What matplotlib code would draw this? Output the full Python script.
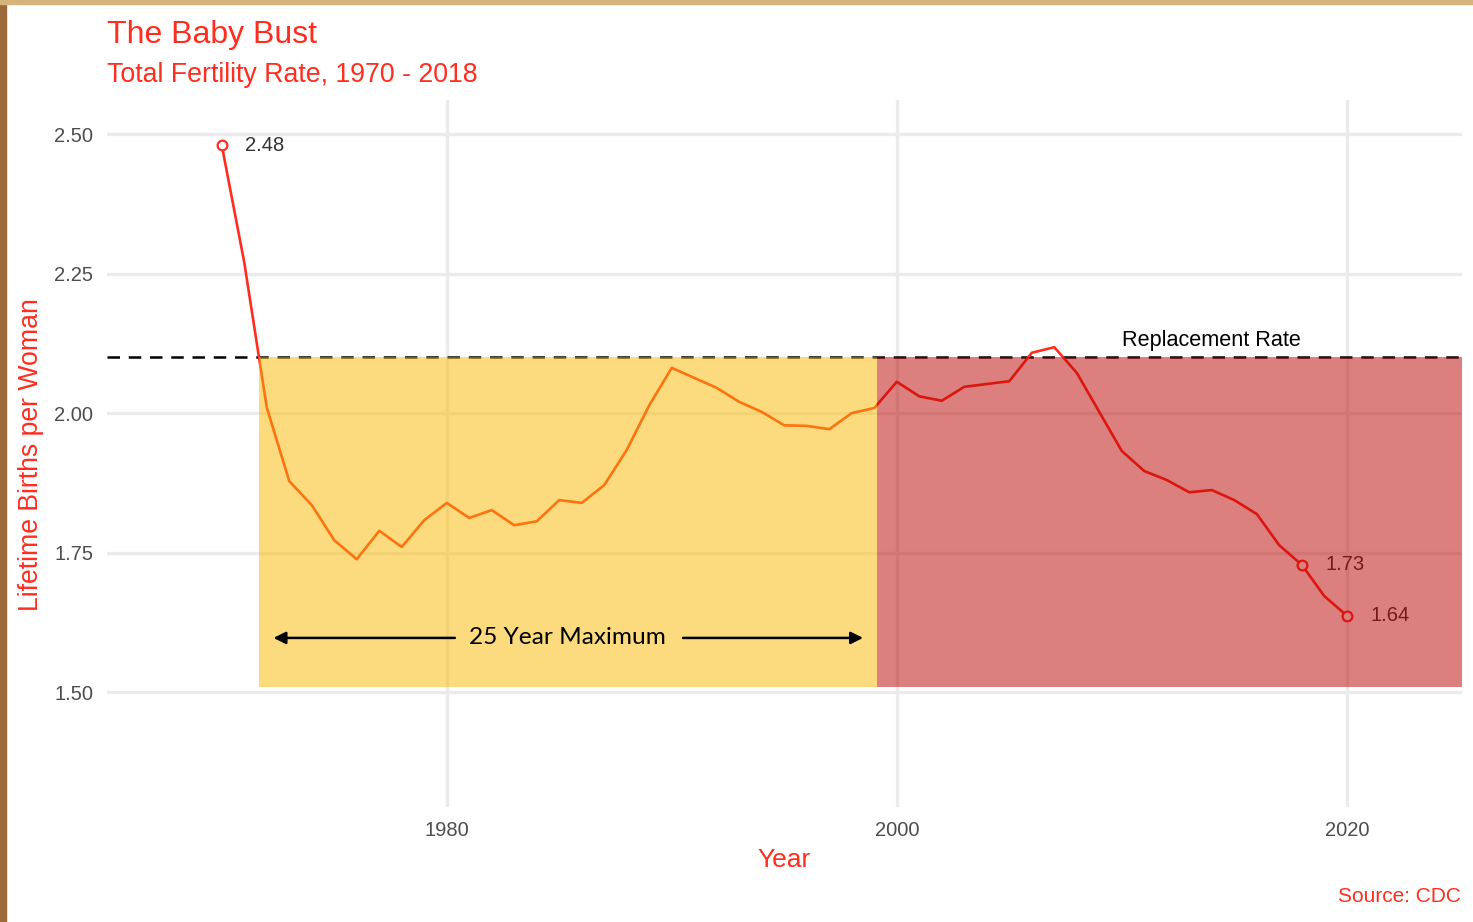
import matplotlib.pyplot as plt
from matplotlib.patches import Rectangle

years = list(range(1970, 2021))
tfr = [2.48, 2.27, 2.01, 1.878, 1.835, 1.772, 1.738, 1.789, 1.760, 1.808,
       1.839, 1.812, 1.826, 1.799, 1.806, 1.844, 1.839, 1.871, 1.934, 2.014,
       2.081, 2.063, 2.045, 2.020, 2.002, 1.978, 1.977, 1.971, 2.000, 2.009,
       2.056, 2.030, 2.022, 2.047, 2.052, 2.057, 2.108, 2.118, 2.072, 2.002,
       1.932, 1.896, 1.880, 1.858, 1.862, 1.844, 1.819, 1.763, 1.728, 1.672,
       1.637]
marked_years = [1970, 2018, 2020]
marked_labels = ["2.48", "1.73", "1.64"]
replacement = 2.1
yellow_span = (1971.65, 1999.1)
red_span = (1999.1, 2025.3)
shade_bottom = 1.509
arrow_span = (1972.3, 1998.5)

RED = "#FF2D1F"
plt.rcParams["font.family"] = ["Liberation Sans", "DejaVu Sans"]

fig = plt.figure(figsize=(14.73, 9.22), dpi=100)
fig.patch.set_facecolor("white")
# wooden frame edges
fig.patches.append(Rectangle((0, 0), 6 / 1473, 1, transform=fig.transFigure,
                             color="#9C6A3A", zorder=0))
fig.patches.append(Rectangle((0, 1 - 4 / 922), 1, 4 / 922, transform=fig.transFigure,
                             color="#D4B47A", zorder=0))

ax = fig.add_axes([107 / 1473, 1 - 807 / 922, (1462 - 107) / 1473, (807 - 100) / 922])
ax.set_xlim(1964.9, 2025.12)
ax.set_ylim(1.294, 2.561)
for s in ax.spines.values():
    s.set_visible(False)
ax.set_xticks([1980, 2000, 2020])
ax.set_yticks([1.5, 1.75, 2.0, 2.25, 2.5])
ax.set_yticklabels(["%.2f" % v for v in [1.5, 1.75, 2.0, 2.25, 2.5]])
ax.tick_params(length=0, labelsize=14.5, labelcolor="#4D4D4D", pad=10)
ax.grid(True, color="#EBEBEB", linewidth=2.4, zorder=0)
ax.set_axisbelow(True)

ax.axhline(replacement, color="black", linestyle=(0, (5, 3.5)), linewidth=1.8, zorder=2)
ax.plot(years, tfr, color=RED, linewidth=1.9, zorder=3)
my = [tfr[years.index(y)] for y in marked_years]
ax.plot(marked_years, my, "o", markersize=7, markerfacecolor="white",
        markeredgecolor=RED, markeredgewidth=1.6, zorder=4)
for x, y, lab in zip(marked_years, my, marked_labels):
    ax.text(x + 1.05, y, lab, fontsize=14.5, color="#333333", va="center", ha="left", zorder=4)

ax.add_patch(Rectangle((yellow_span[0], shade_bottom), yellow_span[1] - yellow_span[0],
                       replacement - shade_bottom, facecolor="#FBB900", alpha=0.5,
                       edgecolor="none", zorder=5))
ax.add_patch(Rectangle((red_span[0], shade_bottom), red_span[1] - red_span[0],
                       replacement - shade_bottom, facecolor="#BA0000", alpha=0.5,
                       edgecolor="none", zorder=5, clip_on=True))

ax.text(2014.0, replacement + 0.011, "Replacement Rate", fontsize=15.6, color="black",
        ha="center", va="bottom", zorder=6)

# 25 year arrow
arrow_y = 1.597
for tip, start in [(arrow_span[0], 1980.36), (arrow_span[1], 1990.5)]:
    ax.annotate("", xy=(tip, arrow_y), xytext=(start, arrow_y),
                arrowprops=dict(arrowstyle="-|>", color="black", lw=1.8,
                                mutation_scale=18, shrinkA=0, shrinkB=0),
                zorder=6)
ax.text(1985.35, arrow_y, "25 Year Maximum", fontsize=17.6, family=["Lato", "DejaVu Sans"],
        color="black", ha="center", va="center", zorder=6)

fig.text(107 / 1473, 1 - 43 / 922, "The Baby Bust", fontsize=23, color=RED, va="baseline")
fig.text(107 / 1473, 1 - 82 / 922, "Total Fertility Rate, 1970 - 2018", fontsize=19.3,
         color=RED, va="baseline")
fig.text(31 / 1473, 1 - 455 / 922, "Lifetime Births per Woman", fontsize=19.2, color=RED,
         rotation=90, ha="center", va="center")
fig.text(784 / 1473, 1 - 860 / 922, "Year", fontsize=19, color=RED, ha="center", va="center")
fig.text(1461 / 1473, 1 - 896 / 922, "Source: CDC", fontsize=15, color=RED,
         ha="right", va="center")

fig.savefig("out.png", dpi=100)
